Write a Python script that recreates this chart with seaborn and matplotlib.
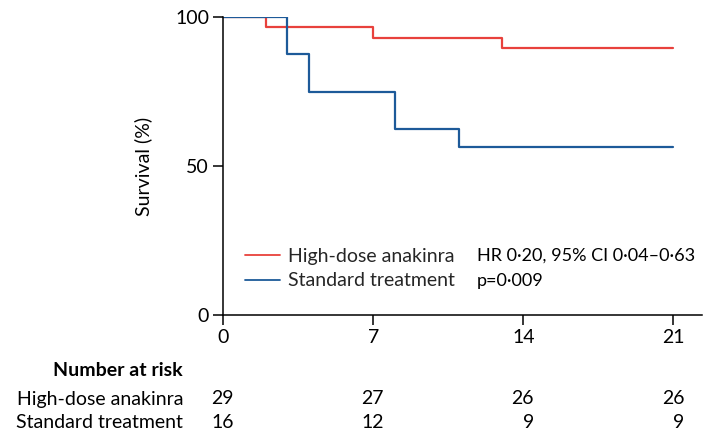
import matplotlib
matplotlib.use("Agg")
import matplotlib.pyplot as plt
import matplotlib.transforms as mtransforms
from matplotlib.lines import Line2D
import seaborn as sns
import pandas as pd

# ---- data ----
groups = ["High-dose anakinra", "Standard treatment"]
high_days = [0, 2, 7, 13, 21]
high_surv = [100, 96.6, 93.1, 89.7, 89.7]
std_days = [0, 3, 4, 8, 11, 21]
std_surv = [100, 87.5, 75.0, 62.5, 56.25, 56.25]
xticks = [0, 7, 14, 21]
yticks = [0, 50, 100]
risk_high = [29, 27, 26, 26]
risk_std = [16, 12, 9, 9]
stats_text = ["HR 0\u00b720, 95% CI 0\u00b704\u20130\u00b763", "p=0\u00b7009"]
colors = {"High-dose anakinra": "#e8413c", "Standard treatment": "#1d5a99"}

df = pd.concat([
    pd.DataFrame({"day": high_days, "surv": high_surv, "group": groups[0]}),
    pd.DataFrame({"day": std_days, "surv": std_surv, "group": groups[1]}),
])

sns.set_theme(style="ticks")
plt.rcParams["font.family"] = ["Lato", "DejaVu Sans"]
FS = 14

fig = plt.figure(figsize=(7.06, 4.37), dpi=100)
ax = fig.add_axes([223 / 706, 1 - 315 / 437, (702 - 223) / 706, 298 / 437])

sns.lineplot(data=df, x="day", y="surv", hue="group", palette=colors,
             estimator=None, drawstyle="steps-post", linewidth=1.6,
             legend=False, ax=ax)

ax.set_xlim(0, (702 - 223) / 21.45)
ax.set_ylim(0, 100)
ax.set_xticks(xticks)
ax.set_yticks(yticks)
ax.tick_params(axis="both", labelsize=FS, length=7, width=1.1, color="black",
               labelcolor="black", direction="out")
ax.tick_params(axis="x", pad=3)
ax.tick_params(axis="y", pad=3)
for s in ["top", "right"]:
    ax.spines[s].set_visible(False)
for s in ["left", "bottom"]:
    ax.spines[s].set_linewidth(1.1)
    ax.spines[s].set_color("black")
ax.set_xlabel("")
ax.set_ylabel("Survival (%)", fontsize=FS, color="black")
ax.yaxis.set_label_coords((152 - 223) / 479, 0.5)

handles = [Line2D([], [], color=colors[g], lw=1.3) for g in groups]
ax.legend(handles, groups, loc="upper left",
          bbox_to_anchor=((245 - 223) / 479, (315 - 248) / 298),
          frameon=False, fontsize=FS, handlelength=1.8, handletextpad=0.4,
          borderpad=0, borderaxespad=0, labelspacing=0.38)
for txt, ypx in zip(stats_text, [256, 281]):
    ax.text((477 - 223) / 21.45, (315 - ypx) / 2.98, txt, fontsize=13,
            va="center", ha="left", color="black")

# number at risk table
trans = mtransforms.blended_transform_factory(ax.transData, fig.transFigure)
fig.text(183 / 706, 1 - 371 / 437, "Number at risk", ha="right", va="center",
         fontsize=FS, fontweight="bold", color="black")
for lab, ypx in zip(groups, [399, 422]):
    fig.text(183 / 706, 1 - ypx / 437, lab, ha="right", va="center",
             fontsize=FS, color="black")
for xv, a, b in zip(xticks, risk_high, risk_std):
    ax.text(xv + 0.5, 1 - 399 / 437, str(a), transform=trans, ha="right",
            va="center", fontsize=FS, color="black")
    ax.text(xv + 0.5, 1 - 422 / 437, str(b), transform=trans, ha="right",
            va="center", fontsize=FS, color="black")

fig.savefig("out.png", dpi=100)
